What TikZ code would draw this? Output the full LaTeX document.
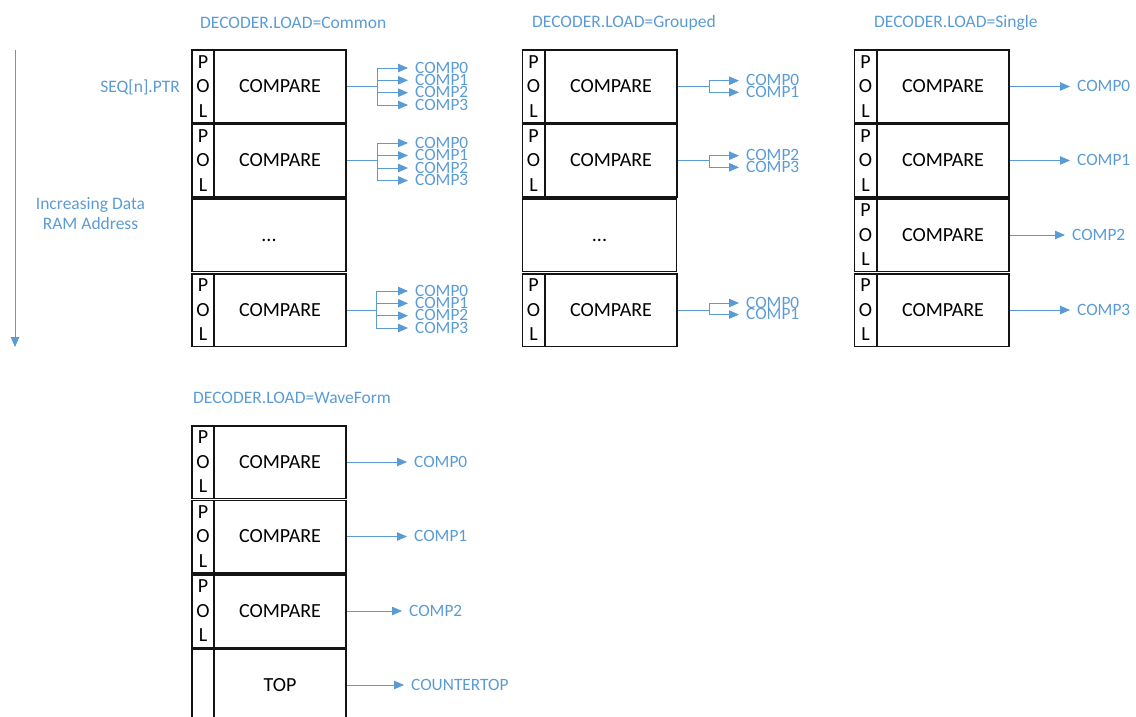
\documentclass[tikz,border=0pt]{standalone}
\usepackage{fontspec}
\setmainfont{Carlito}
\usetikzlibrary{arrows.meta}
\definecolor{seqBlue}{HTML}{5B9BD5}
\definecolor{seqInk}{HTML}{141414}

\begin{document}
\begin{tikzpicture}[x=1pt,y=-1pt,
 pol/.style={draw=seqInk,line width=1.5pt,minimum width=22pt,minimum height=72.5pt,inner sep=0pt,align=center,font=\fontsize{20}{24.5}\selectfont},
 cmp/.style={draw=seqInk,line width=1.5pt,minimum width=132pt,minimum height=72.5pt,inner sep=0pt,font=\fontsize{20}{24}\selectfont},
 gap/.style={cmp,minimum width=154pt,text height=13pt,text depth=0pt},
 head/.style={anchor=west,inner sep=0pt,text=seqBlue,font=\fontsize{17.5}{20}\selectfont},
 note/.style={inner sep=0pt,text=seqBlue,align=center,font=\fontsize{17.5}{20}\selectfont},
 outlbl/.style={anchor=west,inner sep=0pt,text height=10.5pt,text depth=0pt,text=seqBlue,font=\fontsize{17.3}{20}\selectfont},
 feed/.style={-{Triangle[length=10pt,width=8.5pt]},line width=0.9pt,draw=seqBlue,shorten >=7pt},
 wire/.style={line width=0.9pt,draw=seqBlue}
]
\useasboundingbox (0,0) rectangle (1136,717);

\node[head] (hcm) at (200,23) {DECODER.LOAD=Common};
\node[head] (hgr) at (532,23) {DECODER.LOAD=Grouped};
\node[head] (hsg) at (874,23) {DECODER.LOAD=Single};
\node[head] (hwf) at (193,398) {DECODER.LOAD=WaveForm};

\node[note,anchor=east] (ptr) at (180,87) {SEQ[n].PTR};
\node[note] (addr) at (90.5,213.5) {Increasing Data\\RAM Address};
\coordinate (atop) at (15,50);
\coordinate (abot) at (15,347);
\draw[feed,shorten >=0pt] (atop) -- (abot);

\node[pol] (pcm1) at (203,86.5) {P\\O\\L};
\node[cmp] (ccm1) at (280,86.5) {COMPARE};
\node[pol] (pcm2) at (203,160.5) {P\\O\\L};
\node[cmp] (ccm2) at (280,160.5) {COMPARE};
\node[gap] (ccm3) at (269,235) {...};
\node[pol] (pcm4) at (203,310) {P\\O\\L};
\node[cmp] (ccm4) at (280,310) {COMPARE};

\node[outlbl] (ocm1a) at (415,68) {COMP0};
\node[outlbl] (ocm1b) at (415,80.3) {COMP1};
\node[outlbl] (ocm1c) at (415,92.7) {COMP2};
\node[outlbl] (ocm1d) at (415,105) {COMP3};
\coordinate (jcm1) at (377,86.5);
\draw[wire] (ccm1.east) -- (jcm1);
\draw[feed] (jcm1) |- (ocm1a.west);
\draw[feed] (jcm1) |- (ocm1b.west);
\draw[feed] (jcm1) |- (ocm1c.west);
\draw[feed] (jcm1) |- (ocm1d.west);

\node[outlbl] (ocm2a) at (415,143) {COMP0};
\node[outlbl] (ocm2b) at (415,155.5) {COMP1};
\node[outlbl] (ocm2c) at (415,168) {COMP2};
\node[outlbl] (ocm2d) at (415,180.5) {COMP3};
\coordinate (jcm2) at (377,160.5);
\draw[wire] (ccm2.east) -- (jcm2);
\draw[feed] (jcm2) |- (ocm2a.west);
\draw[feed] (jcm2) |- (ocm2b.west);
\draw[feed] (jcm2) |- (ocm2c.west);
\draw[feed] (jcm2) |- (ocm2d.west);

\node[outlbl] (ocm4a) at (415,291) {COMP0};
\node[outlbl] (ocm4b) at (415,303.3) {COMP1};
\node[outlbl] (ocm4c) at (415,315.7) {COMP2};
\node[outlbl] (ocm4d) at (415,328) {COMP3};
\coordinate (jcm4) at (376,310);
\draw[wire] (ccm4.east) -- (jcm4);
\draw[feed] (jcm4) |- (ocm4a.west);
\draw[feed] (jcm4) |- (ocm4b.west);
\draw[feed] (jcm4) |- (ocm4c.west);
\draw[feed] (jcm4) |- (ocm4d.west);

\node[pol] (pgr1) at (533.5,86.5) {P\\O\\L};
\node[cmp] (cgr1) at (611,86.5) {COMPARE};
\node[pol] (pgr2) at (533.5,160.5) {P\\O\\L};
\node[cmp] (cgr2) at (611,160.5) {COMPARE};
\node[gap] (cgr3) at (599.5,235) {...};
\node[pol] (pgr4) at (533.5,310) {P\\O\\L};
\node[cmp] (cgr4) at (611,310) {COMPARE};

\node[outlbl] (ogr1a) at (746,80.7) {COMP0};
\node[outlbl] (ogr1b) at (746,92.3) {COMP1};
\coordinate (jgr1) at (709,86.5);
\draw[wire] (cgr1.east) -- (jgr1);
\draw[feed] (jgr1) |- (ogr1a.west);
\draw[feed] (jgr1) |- (ogr1b.west);

\node[outlbl] (ogr2a) at (746,155.7) {COMP2};
\node[outlbl] (ogr2b) at (746,167.3) {COMP3};
\coordinate (jgr2) at (709,160.5);
\draw[wire] (cgr2.east) -- (jgr2);
\draw[feed] (jgr2) |- (ogr2a.west);
\draw[feed] (jgr2) |- (ogr2b.west);

\node[outlbl] (ogr4a) at (746,303) {COMP0};
\node[outlbl] (ogr4b) at (746,314.6) {COMP1};
\coordinate (jgr4) at (709,310);
\draw[wire] (cgr4.east) -- (jgr4);
\draw[feed] (jgr4) |- (ogr4a.west);
\draw[feed] (jgr4) |- (ogr4b.west);

\node[pol] (psg1) at (865.5,86.5) {P\\O\\L};
\node[cmp] (csg1) at (943,86.5) {COMPARE};
\node[pol] (psg2) at (865.5,160.5) {P\\O\\L};
\node[cmp] (csg2) at (943,160.5) {COMPARE};
\node[pol] (psg3) at (865.5,235) {P\\O\\L};
\node[cmp] (csg3) at (943,235) {COMPARE};
\node[pol] (psg4) at (865.5,310) {P\\O\\L};
\node[cmp] (csg4) at (943,310) {COMPARE};
\node[outlbl] (osg1) at (1077,86.5) {COMP0};
\node[outlbl] (osg2) at (1077,160.5) {COMP1};
\node[outlbl] (osg3) at (1072,235) {COMP2};
\node[outlbl] (osg4) at (1077,310) {COMP3};
\draw[feed] (csg1) -- (osg1);
\draw[feed] (csg2) -- (osg2);
\draw[feed] (csg3) -- (osg3);
\draw[feed] (csg4) -- (osg4);

\node[pol] (pwf1) at (203,462) {P\\O\\L};
\node[cmp] (cwf1) at (280,462) {COMPARE};
\node[pol] (pwf2) at (203,536.5) {P\\O\\L};
\node[cmp] (cwf2) at (280,536.5) {COMPARE};
\node[pol] (pwf3) at (203,611) {P\\O\\L};
\node[cmp] (cwf3) at (280,611) {COMPARE};
\node[pol] (pwf4) at (203,685) {};
\node[cmp] (cwf4) at (280,685) {TOP};
\node[outlbl] (owf1) at (414,462) {COMP0};
\node[outlbl] (owf2) at (414,536.5) {COMP1};
\node[outlbl] (owf3) at (409,611) {COMP2};
\node[outlbl] (owf4) at (411,685) {COUNTERTOP};
\draw[feed] (cwf1) -- (owf1);
\draw[feed] (cwf2) -- (owf2);
\draw[feed] (cwf3) -- (owf3);
\draw[feed] (cwf4) -- (owf4);
\end{tikzpicture}
\end{document}
